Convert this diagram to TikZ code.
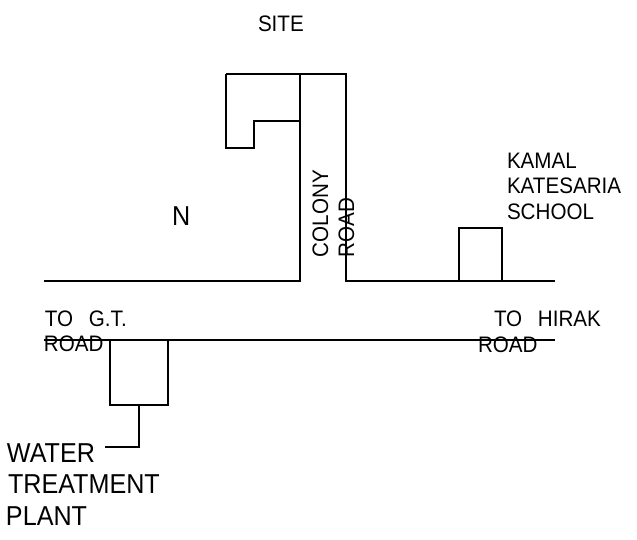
\documentclass[tikz,border=0pt]{standalone}
\usepackage{fontspec}
\setmainfont[FakeStretch=0.92]{Liberation Sans}
\tikzset{
  px/.style={x=0.75pt,y=-0.75pt},
  ln/.style={draw=black,line width=1.6pt*0.75,line cap=butt,line join=miter},
  lab/.style={anchor=base west,inner sep=0pt,outer sep=0pt,text=black},
  mid/.style={lab,font=\fontsize{16.8pt}{16.8pt}\selectfont},
  big/.style={lab,font=\fontsize{20.5pt}{20.5pt}\selectfont},
}
\begin{document}
\begin{tikzpicture}[px]
\useasboundingbox (0,0) rectangle (637,540);
% site and colony road
\draw[ln] (226,74) -- (346,74) -- (346,281) -- (555,281);
\draw[ln] (300,74) -- (300,281) -- (44,281);
\draw[ln] (226,74) -- (226,148) -- (254,148) -- (254,121) -- (300,121);
% school
\draw[ln] (459,281) -- (459,228) -- (502,228) -- (502,281);
% main road
\draw[ln] (44,340) -- (555,340);
% water treatment plant
\draw[ln] (110,340) -- (110,405) -- (168,405) -- (168,340);
\draw[ln] (139,405) -- (139,447) -- (105,447);
% labels
\node[mid] (site) at (258,31) {SITE};
\node[big] (n) at (172,225) {N};
\node[mid,rotate=90] (colony) at (328,257) {COLONY};
\node[mid,rotate=90] (roadc) at (354,257) {ROAD};
\node[mid] (kamal) at (507,168) {KAMAL};
\node[mid] (kat) at (507,193) {KATESARIA};
\node[mid] (school) at (507,219) {SCHOOL};
\node[mid] (togt) at (45,326) {TO\hspace{0.7em}G.T.};
\node[mid] (roadl) at (44,351) {ROAD};
\node[mid] (tohirak) at (494,326) {TO\hspace{0.7em}HIRAK};
\node[mid] (roadr) at (478,352) {ROAD};
\node[big] (water) at (7,462) {WATER};
\node[big] (treat) at (8,493) {TREATMENT};
\node[big] (plant) at (6,525) {PLANT};
\end{tikzpicture}
\end{document}
